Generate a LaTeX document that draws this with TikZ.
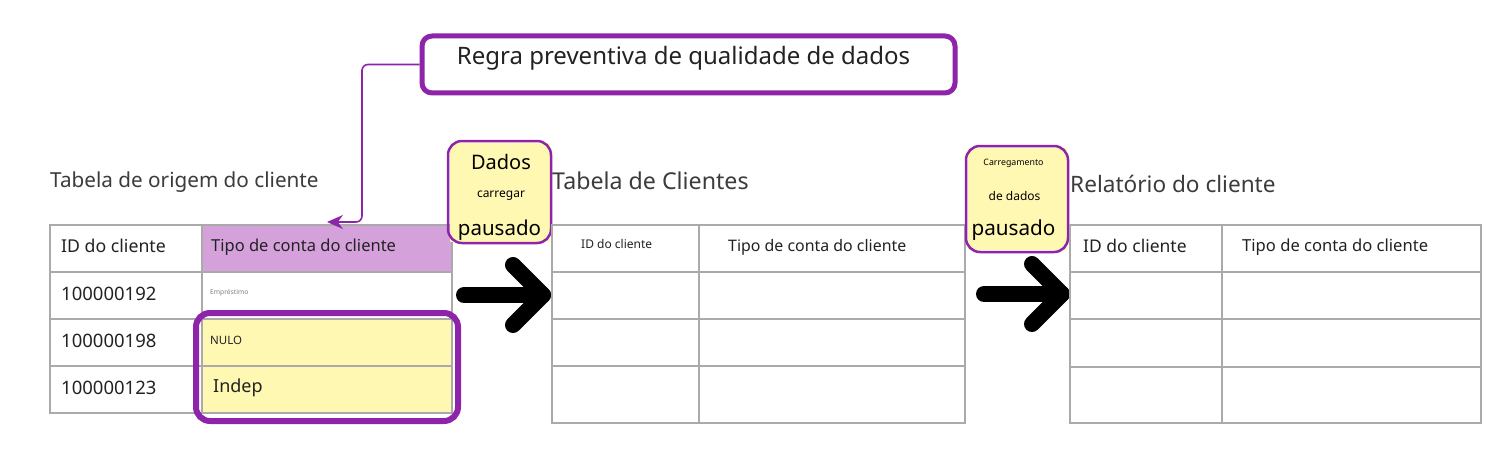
\documentclass[tikz,border=0pt]{standalone}
\usepackage{fontspec}
\setmainfont{Noto Sans}
\usetikzlibrary{arrows.meta,calc}
\definecolor{pborder}{HTML}{8E24AA}
\definecolor{phead}{HTML}{D5A1DB}
\definecolor{stickyyel}{HTML}{FFF8B3}
\definecolor{gridgray}{HTML}{AAAAAA}
\definecolor{txt}{HTML}{222222}
\definecolor{ttl}{HTML}{3C3C3C}
\tikzset{
  gridline/.style={draw=gridgray,line width=2pt},
  celltext/.style={anchor=west,inner sep=0pt,text=txt},
  titletext/.style={anchor=west,inner sep=0pt,text=ttl},
  stickybox/.style={draw=pborder,line width=2.5pt,rounded corners=14pt},
  stickytext/.style={inner sep=0pt,text=black},
  bigarrow/.style={line width=16pt,line cap=round,line join=round,draw=black},
  connector/.style={draw=pborder,line width=1.6pt,rounded corners=6pt,-{Stealth[length=16pt,width=14pt]}},
}
\begin{document}
\begin{tikzpicture}[x=1pt,y=-1pt]
\useasboundingbox[fill=white] (0,0) rectangle (1508,452);

% ---------- Table 1 ----------
\fill[phead] (202,225) rectangle (452,272);
\fill[stickyyel] (202,319) rectangle (452,413);
\draw[gridline] (50,225) rectangle (452,413);
\foreach \yy in {272,319,366} \draw[gridline] (50,\yy) -- (452,\yy);
\draw[gridline] (202,225) -- (202,413);
\draw[draw=pborder,line width=6pt,rounded corners=14pt] (196,313) rectangle (458,421);

\node[titletext,font=\fontsize{20.7}{24}\selectfont] (t1) at (50,182) {Tabela de origem do cliente};
\node[celltext,font=\fontsize{17.7}{20}\selectfont] (t1h1) at (61,246) {ID do cliente};
\node[celltext,font=\fontsize{16.5}{20}\selectfont] (t1h2) at (211,247) {Tipo de conta do cliente};
\node[celltext,font=\fontsize{18.5}{20}\selectfont] (t1r1) at (61,294) {100000192};
\node[celltext,font=\fontsize{18.5}{20}\selectfont] (t1r2) at (61,341) {100000198};
\node[celltext,font=\fontsize{18.5}{20}\selectfont] (t1r3) at (61,388) {100000123};
\node[celltext,font=\fontsize{6.7}{8}\selectfont,text=gray] (t1c1) at (210,293) {Empréstimo};
\node[celltext,font=\fontsize{11.5}{13}\selectfont] (t1c2) at (210,340) {NULO};
\node[celltext,font=\fontsize{18}{21}\selectfont] (t1c3) at (213,388) {Indep};

% ---------- Title box and connector ----------
\node[draw=pborder,line width=5pt,rounded corners=10pt,minimum width=533pt,minimum height=57pt,inner sep=0pt] (rule) at (688.5,64.5) {};
\node[inner sep=0pt,text=txt,font=\fontsize{24}{28}\selectfont] (ruletext) at (683.5,58) {Regra preventiva de qualidade de dados};
\coordinate (bend) at (362,222);
\coordinate (tip) at (327,222);
\draw[connector] (rule.west) -| (bend) -- (tip);

% ---------- Sticky 1 ----------
\fill[stickyyel] (450,143) rectangle (550,242);
\node[stickybox,minimum width=103pt,minimum height=102pt] (s1) at (499.5,192) {};
\node[stickytext,font=\fontsize{20}{23}\selectfont] (s1a) at (501,162) {Dados};
\node[stickytext,font=\fontsize{12}{14}\selectfont] (s1b) at (501,196) {carregar};
\node[stickytext,font=\fontsize{20.5}{24}\selectfont] (s1c) at (499.5,230) {pausado};

% ---------- Arrow 1 ----------
\coordinate (a1s) at (464,295);
\coordinate (a1e) at (543,295);
\draw[bigarrow] (a1s) -- (a1e);
\draw[bigarrow] ($(a1e)+(-30,-30)$) -- (a1e) -- ($(a1e)+(-30,30)$);

% ---------- Table 2 ----------
\draw[gridline] (552,225) rectangle (965,423);
\foreach \yy in {272,319,366} \draw[gridline] (552,\yy) -- (965,\yy);
\draw[gridline] (699,225) -- (699,423);
\node[titletext,font=\fontsize{23.2}{27}\selectfont] (t2) at (552,181) {Tabela de Clientes};
\node[celltext,font=\fontsize{12}{14}\selectfont] (t2h1) at (581,244) {ID do cliente};
\node[celltext,font=\fontsize{15.9}{18}\selectfont] (t2h2) at (728,247) {Tipo de conta do cliente};

% ---------- Sticky 2 ----------
\fill[stickyyel] (968,148) rectangle (1067,250);
\node[stickybox,minimum width=102pt,minimum height=106pt] (s2) at (1017,199) {};
\node[stickytext,font=\fontsize{8.8}{10}\selectfont] (s2a) at (1013.5,163) {Carregamento};
\node[stickytext,font=\fontsize{12}{14}\selectfont] (s2b) at (1014.5,196) {de dados};
\node[stickytext,font=\fontsize{20.7}{24}\selectfont] (s2c) at (1013.5,230) {pausado};

% ---------- Arrow 2 ----------
\coordinate (a2s) at (984,294);
\coordinate (a2e) at (1062,294);
\draw[bigarrow] (a2s) -- (a2e);
\draw[bigarrow] ($(a2e)+(-30,-30)$) -- (a2e) -- ($(a2e)+(-30,30)$);

% ---------- Table 3 ----------
\draw[gridline] (1070,225) rectangle (1481,423);
\foreach \yy in {272,319,367} \draw[gridline] (1070,\yy) -- (1481,\yy);
\draw[gridline] (1222,225) -- (1222,423);
\node[titletext,font=\fontsize{22.6}{26}\selectfont] (t3) at (1070,184) {Relatório do cliente};
\node[celltext,font=\fontsize{17.5}{20}\selectfont] (t3h1) at (1083,246) {ID do cliente};
\node[celltext,font=\fontsize{16.6}{19}\selectfont] (t3h2) at (1242,247) {Tipo de conta do cliente};
\end{tikzpicture}
\end{document}
